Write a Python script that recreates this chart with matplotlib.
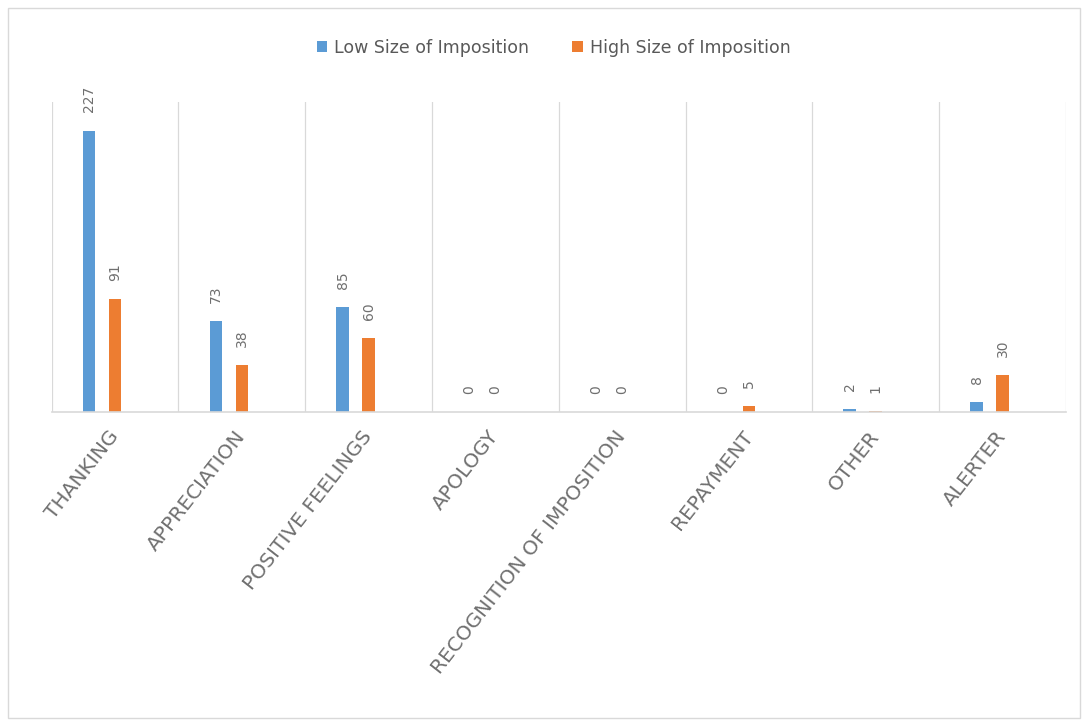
import matplotlib
matplotlib.use('Agg')
import matplotlib.pyplot as plt
import numpy as np
from matplotlib.patches import Rectangle

plt.rcParams['font.family'] = ['DejaVu Sans']

categories = ["THANKING", "APPRECIATION", "POSITIVE FEELINGS", "APOLOGY",
              "RECOGNITION OF IMPOSITION", "REPAYMENT", "OTHER", "ALERTER"]
low_values = [227, 73, 85, 0, 0, 0, 2, 8]
high_values = [91, 38, 60, 0, 0, 5, 1, 30]
series_names = ["Low Size of Imposition", "High Size of Imposition"]

BLUE = '#5B9BD5'
ORANGE = '#ED7D31'
GREY_TXT = '#595959'
GRID = '#D9D9D9'

fig = plt.figure(figsize=(10.92, 7.23), dpi=100)
ax = fig.add_axes([0.0473, 0.4302, 0.9289, 0.4287])

# outer chart border
fig.patches.append(Rectangle((8 / 1092, 5 / 723), 1072 / 1092, 710 / 723,
                             transform=fig.transFigure, fill=False,
                             edgecolor=GRID, linewidth=1))

x = np.arange(len(categories))
width = 0.1
b1 = ax.bar(x - 0.205, low_values, width, color=BLUE, label=series_names[0])
b2 = ax.bar(x, high_values, width, color=ORANGE, label=series_names[1])

for bars in (b1, b2):
    for rect in bars:
        h = rect.get_height()
        ax.annotate(f"{int(h)}", (rect.get_x() + rect.get_width() / 2, h),
                    xytext=(0, 13), textcoords='offset points',
                    rotation=90, ha='center', va='bottom',
                    fontsize=10, color='#6f6f6f')

ax.set_xlim(-0.5, len(categories) - 0.5)
ax.set_ylim(0, 250)
ax.set_yticks([])

ax.set_xticks(x)
ax.set_xticklabels(categories, rotation=52, ha='right', va='center',
                   rotation_mode='anchor', fontsize=14.5, color='#707070')
ax.tick_params(axis='x', length=0, pad=15)
ax.set_xticks(np.arange(-0.5, len(categories)), minor=True)
ax.tick_params(axis='x', which='minor', length=0)
ax.grid(which='minor', axis='x', color=GRID, linewidth=0.9)
ax.set_axisbelow(True)

for side in ('top', 'left', 'right'):
    ax.spines[side].set_visible(False)
ax.spines['bottom'].set_color(GRID)
ax.spines['bottom'].set_linewidth(1.2)

fig.legend(loc='center', bbox_to_anchor=(0.507, 0.934), ncol=2, frameon=False,
           fontsize=12.5, handlelength=0.6, handleheight=0.6, handletextpad=0.4,
           columnspacing=2.5, labelcolor=GREY_TXT)

fig.savefig('out.png', dpi=100)
